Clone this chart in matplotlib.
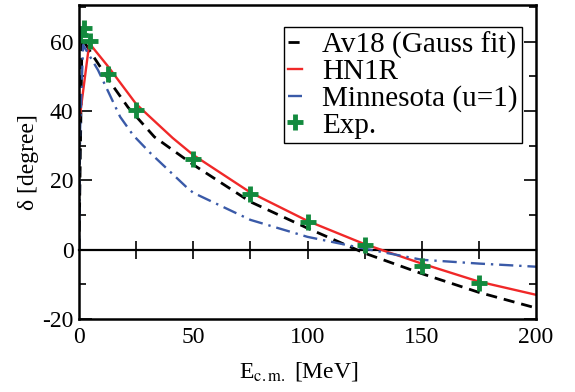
import matplotlib
matplotlib.use('Agg')
import matplotlib.pyplot as plt
from matplotlib.ticker import MultipleLocator

plt.rcParams['font.family'] = ['Liberation Serif', 'DejaVu Serif']
plt.rcParams['mathtext.fontset'] = 'stix'
plt.rcParams['axes.unicode_minus'] = False

# Av18 (Gauss fit)
av18_e = [0, 1.3, 5, 14.5, 21.5, 33, 50, 75, 100, 125, 150, 175, 200]
av18_d = [0, 61, 57, 47.5, 41, 32.5, 24.5, 13.8, 6.2, -1.0, -6.9, -12.3, -16.8]

# HN1R
hn1r_e = [0.3, 4.5, 12.5, 25, 31, 41, 50, 75, 100, 125, 150, 175, 200]
hn1r_d = [38, 59.5, 53, 42, 38.3, 32.2, 27.3, 16.5, 8.3, 1.6, -4.0, -9.2, -13.0]

# Minnesota (u=1)
minn_e = [0, 0.5, 1.8, 8.3, 18, 23.7, 31, 47.4, 50, 75, 100, 125, 150, 175, 200]
minn_d = [0, 35, 59, 51.8, 38.3, 33, 28, 17.8, 16.4, 8.6, 3.7, 0.3, -2.9, -4.0, -4.9]

# Exp.
exp_e = [0.5, 2.2, 4.8, 12.5, 25, 50, 75, 100, 125, 150, 175]
exp_d = [62, 63.9, 60.2, 50.7, 40.2, 26.2, 16.1, 8.1, 1.4, -4.6, -9.6]

xmin, xmax = 0, 200
ymin, ymax = -20, 70.5

fig = plt.figure(figsize=(5.75, 3.92), dpi=100)
ax = fig.add_axes([0.1374, 0.186, 0.7948, 0.801])

ax.plot(av18_e, av18_d, color='black', lw=2, dashes=(4, 2.5), label='Av18 (Gauss fit)')
ax.plot(hn1r_e, hn1r_d, color='#f02828', lw=1.7, label='HN1R')
ax.plot(minn_e, minn_d, color='#3a5aa8', lw=1.7, dashes=(6, 2.5, 1, 2.5), label='Minnesota (u=1)')
ax.plot(exp_e, exp_d, ls='none', marker='+', ms=12, mew=3.5, color='#138a3e', label='Exp.')

ax.set_xlim(xmin, xmax)
ax.set_ylim(ymin, ymax)

# zero line with its ticks
zero_pos = (0 - ymin) / (ymax - ymin)
sec = ax.secondary_xaxis(zero_pos)
sec.set_xticks([25, 50, 75, 100, 125, 150, 175])
sec.tick_params(direction='inout', length=13, width=1.2, labelbottom=False, labeltop=False)
sec.spines['bottom'].set_linewidth(1.6)
sec.spines['top'].set_linewidth(1.6)

ax.set_xticks([0, 50, 100, 150, 200])
ax.tick_params(axis='x', length=0, pad=6, labelsize=17)
ax.yaxis.set_major_locator(MultipleLocator(20))
ax.yaxis.set_minor_locator(MultipleLocator(10))
ax.tick_params(axis='y', which='major', direction='in', length=9, width=1.2,
               right=True, labelsize=17, pad=4)
ax.tick_params(axis='y', which='minor', direction='in', length=5, width=1.2, right=True)
for sp in ax.spines.values():
    sp.set_linewidth(1.8)

ax.set_xlabel(r'E$_{\rm c.m.}$ [MeV]', fontsize=17, labelpad=3)
ax.xaxis.set_label_coords(0.48, -0.13)
ax.set_ylabel('δ [degree]', fontsize=17, labelpad=2)

leg = ax.legend(loc='upper right', bbox_to_anchor=(0.969, 0.930), borderaxespad=0,
                fontsize=21, handlelength=0.45, handletextpad=0.7, labelspacing=0.0,
                borderpad=0.15, fancybox=False, framealpha=1, edgecolor='black')
leg.get_frame().set_linewidth(1.0)

fig.savefig('out.png', dpi=100)
